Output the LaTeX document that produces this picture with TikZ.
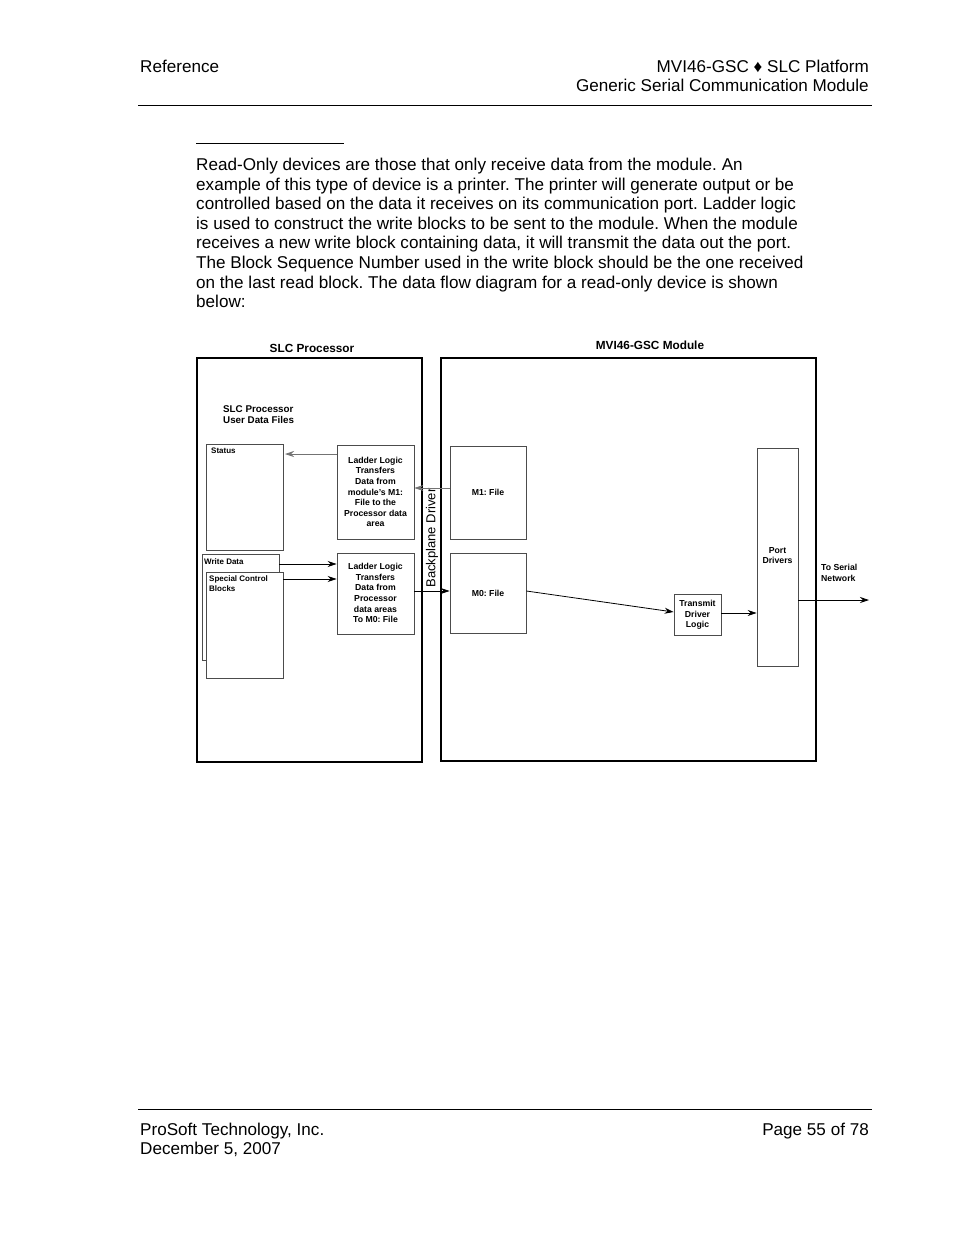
\documentclass[tikz,border=0pt]{standalone}
\usepackage{fontspec}
\setmainfont{Liberation Sans}
\usetikzlibrary{arrows.meta}
\begin{document}
\frenchspacing
\begin{tikzpicture}[x=1pt,y=-1pt,
  outer/.style={draw=black,line width=2pt},
  inner/.style={draw=black!70,line width=0.9pt},
  lbl/.style={font=\fontsize{8.7}{10.6}\selectfont\bfseries,align=center,inner sep=0pt},
  lbll/.style={font=\fontsize{8.7}{10.6}\selectfont\bfseries,align=left,inner sep=0pt,anchor=north west},
  arr/.style={-{Stealth[length=9pt,width=6pt,inset=3pt]},line width=0.8pt},
  garr/.style={arr,draw=black!55},
  pagetext/.style={font=\fontsize{17.1}{19.6}\selectfont,inner sep=0pt}
]
\useasboundingbox (0,0) rectangle (954,1235);
\fill[white] (0,0) rectangle (954,1235);
% header
\node[pagetext,anchor=base west] (hdrL) at (140,72) {Reference};
\node[pagetext,anchor=base east] (hdrR1) at (869,72) {MVI46-GSC \char"2666\ SLC Platform};
\node[pagetext,anchor=base east] (hdrR2) at (869,91) {Generic Serial Communication Module};
\draw[line width=1pt] (138,105) -- (872,105);
\draw[line width=1pt] (196,143) -- (344,143);
% paragraph
\node[pagetext,anchor=north west,align=left] (para) at (196,158) {Read-Only devices are those that only receive data from the module. An\\
example of this type of device is a printer. The printer will generate output or be\\
controlled based on the data it receives on its communication port. Ladder logic\\
is used to construct the write blocks to be sent to the module. When the module\\
receives a new write block containing data, it will transmit the data out the port.\\
The Block Sequence Number used in the write block should be the one received\\
on the last read block. The data flow diagram for a read-only device is shown\\
below:};
% footer
\draw[line width=1pt] (138,1109) -- (872,1109);
\node[pagetext,anchor=base west] (ft1) at (140,1135) {ProSoft Technology, Inc.};
\node[pagetext,anchor=base west] (ft2) at (140,1154) {December 5, 2007};
\node[pagetext,anchor=base east] (ft3) at (869,1135) {Page 55 of 78};

% diagram outer boxes
\draw[outer] (197,358) rectangle (422,762);
\draw[outer] (441,358) rectangle (816,761);
\node[font=\fontsize{11.8}{13}\selectfont\bfseries] (t1) at (312,348) {SLC Processor};
\node[font=\fontsize{11.8}{13}\selectfont\bfseries] (t2) at (650,345) {MVI46-GSC Module};
\node[font=\fontsize{13}{14}\selectfont,rotate=90,inner sep=0pt] (bp) at (432,538) {Backplane Driver};

\node[lbll,font=\fontsize{9.8}{11.8}\selectfont\bfseries] (udf) at (223,405) {SLC Processor\\User Data Files};

% data file boxes
\draw[inner] (206,444) rectangle (283,550);
\coordinate (statusR) at (285,454);
\node[lbll,font=\fontsize{8}{9}\selectfont\bfseries] (status) at (211,448) {Status};
\draw[inner] (202,554) rectangle (279,660);
\node[lbll,font=\fontsize{8}{9}\selectfont\bfseries] (wd) at (204,558) {Write Data};
\draw[inner,fill=white] (206,572) rectangle (283,678);
\node[lbll,font=\fontsize{8}{10}\selectfont\bfseries] (scb) at (209,575) {Special Control\\Blocks};
\coordinate (wdR) at (279,564);
\coordinate (scbR) at (283,579);

% ladder logic boxes
\node[inner,minimum width=77pt,minimum height=94pt,inner sep=0pt] (ll1) at (375.5,492) {};
\node[lbl] at (375.5,492) {Ladder Logic\\Transfers\\Data from\\module's M1:\\File to the\\Processor data\\area};
\node[inner,minimum width=77pt,minimum height=81pt,inner sep=0pt] (ll2) at (375.5,593.5) {};
\node[lbl] at (375.5,593) {Ladder Logic\\Transfers\\Data from\\Processor\\data areas\\To M0: File};

% module boxes
\node[inner,minimum width=76pt,minimum height=93pt,inner sep=0pt] (m1) at (488,492.5) {};
\node[lbl] at (488,492) {M1: File};
\node[inner,minimum width=76pt,minimum height=80pt,inner sep=0pt] (m0) at (488,593) {};
\node[lbl] at (488,593) {M0: File};
\node[inner,minimum width=47pt,minimum height=41pt,inner sep=0pt] (tx) at (697.5,614.5) {};
\node[lbl] at (697.5,615) {Transmit\\Driver\\Logic};
\node[inner,minimum width=41pt,minimum height=218pt,inner sep=0pt] (pd) at (777.5,557) {};
\node[lbl] at (777.5,555.5) {Port\\Drivers};
\node[lbll] (ts) at (821,564) {To Serial\\Network};
\coordinate (net) at (869,600);

% connectors
\draw[garr] (ll1.west |- statusR) -- (statusR);
\draw[garr] (m1.west |- 0,488) -- (ll1.east |- 0,488);
\draw[arr] (wdR) -- (ll2.west |- wdR);
\draw[arr] (scbR) -- (ll2.west |- scbR);
\draw[arr] (ll2.east |- 0,591) -- (m0.west |- 0,591);
\draw[arr] (m0.east |- 0,591) -- (tx.west |- 0,612);
\draw[arr] (tx.east |- 0,613) -- (pd.west |- 0,613);
\draw[arr] (pd.east |- net) -- (net);
\end{tikzpicture}
\end{document}
